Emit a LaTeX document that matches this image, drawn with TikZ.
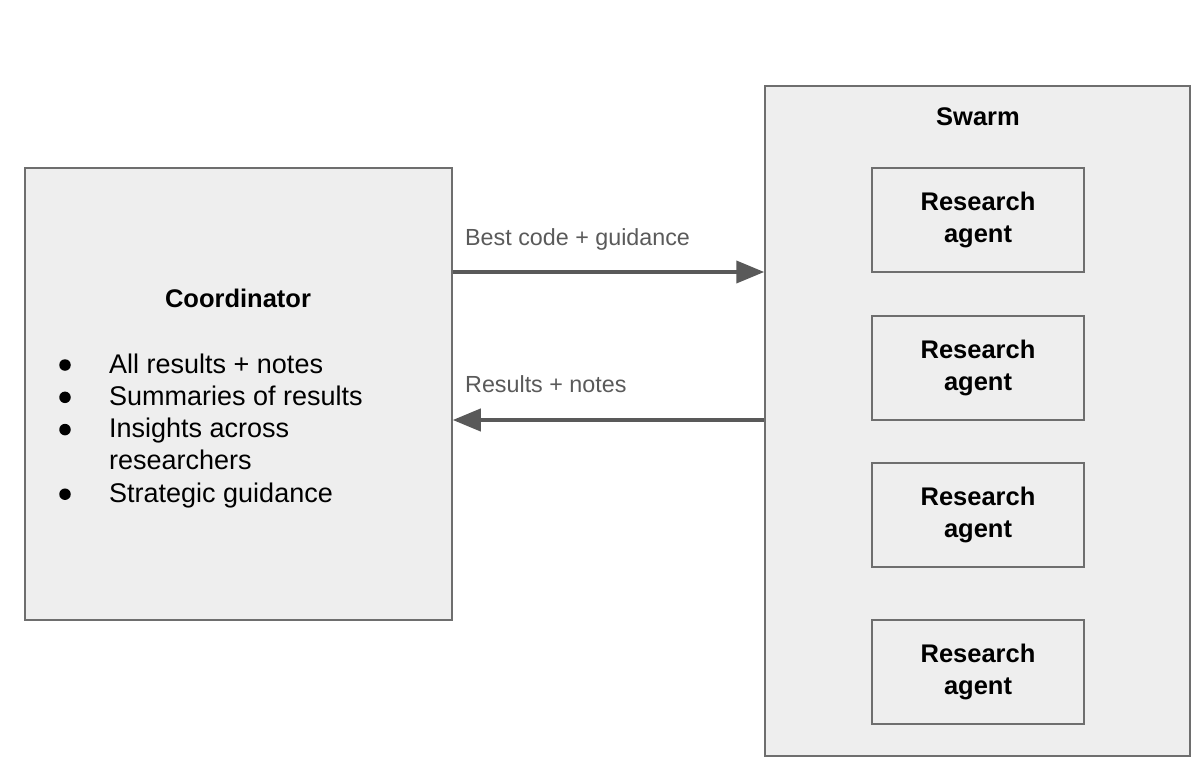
\documentclass[tikz,border=0pt]{standalone}
\usepackage{fontspec}
\setmainfont{Liberation Sans}
\usetikzlibrary{arrows.meta}
\definecolor{boxfill}{HTML}{EEEEEE}
\definecolor{boxline}{HTML}{6E6E6E}
\definecolor{arrowcol}{HTML}{595959}
\definecolor{labelcol}{HTML}{5A5A5A}
\tikzset{
  panel/.style={draw=boxline, fill=boxfill, line width=1.5pt, inner sep=0pt},
  agentbox/.style={panel, minimum width=212pt, minimum height=104pt, align=center,
    font=\fontsize{25.5}{32.5}\selectfont\bfseries},
  titletext/.style={inner sep=0pt, font=\fontsize{25.5}{30}\selectfont\bfseries},
  flow/.style={draw=arrowcol, line width=4pt, -{Triangle[length=28pt,width=22pt]}},
  flowlabel/.style={anchor=base west, text=labelcol, font=\fontsize{23.3}{27}\selectfont, inner sep=0pt},
  bullettext/.style={anchor=base west, inner sep=0pt, font=\fontsize{27}{30}\selectfont},
  bulletdot/.style={circle, fill=black, inner sep=0pt, minimum size=11.5pt},
}
\begin{document}
\begin{tikzpicture}[x=1pt,y=-1pt]
\useasboundingbox[fill=white] (0,0) rectangle (1200,760);
% Coordinator
\node[panel, minimum width=427pt, minimum height=452pt] (coord) at (238.5,394) {};
\node[titletext] (ctitle) at (238,298) {Coordinator};
\foreach \i in {1,2,3,5}{
  \node[bulletdot] (dot\i) at (65,{365+32.3*(\i-1)}) {};
}
\node[bullettext] (b1) at (109,373) {All results + notes};
\node[bullettext] (b2) at (109,405.3) {Summaries of results};
\node[bullettext] (b3) at (109,437.6) {Insights across};
\node[bullettext] (b4) at (109,469.9) {researchers};
\node[bullettext] (b5) at (109,502.2) {Strategic guidance};
% Swarm
\node[panel, minimum width=425pt, minimum height=670pt] (swarm) at (977.5,421) {};
\node[titletext] (stitle) at (978,117) {Swarm};
\node[agentbox] (a1) at (978,220) {Research\\agent};
\node[agentbox] (a2) at (978,368) {Research\\agent};
\node[agentbox] (a3) at (978,515) {Research\\agent};
\node[agentbox] (a4) at (978,672) {Research\\agent};
% arrows
\coordinate (c1) at (coord.east |- 0,272);
\coordinate (s1) at (swarm.west |- 0,272);
\coordinate (c2) at (coord.east |- 0,420);
\coordinate (s2) at (swarm.west |- 0,420);
\draw[flow] (c1) -- (s1);
\draw[flow] (s2) -- (c2);
\node[flowlabel] (l1) at (465,245) {Best code + guidance};
\node[flowlabel] (l2) at (465,392) {Results + notes};
\end{tikzpicture}
\end{document}
